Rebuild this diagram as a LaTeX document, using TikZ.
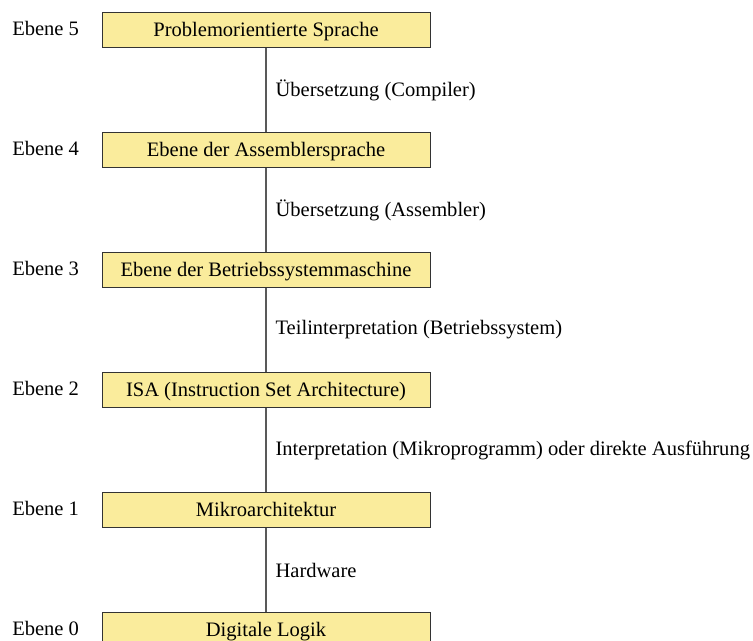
\documentclass[tikz,border=0pt]{standalone}
\usepackage{fontspec}
\setmainfont{Liberation Serif}
\usepackage{tikz}
\usetikzlibrary{positioning}
\definecolor{ebenegelb}{RGB}{250,236,156}
\begin{document}
\begin{tikzpicture}[
  x=0.75pt, y=-0.75pt,
  font=\fontsize{15.4}{18}\selectfont,
  ebene/.style={draw=black!80, fill=ebenegelb, minimum width=246pt, minimum height=26.25pt, inner sep=0pt, text height=0.95em, text depth=0pt},
  lvl/.style={anchor=west, inner sep=0pt, text height=0.85em, text depth=0pt},
  verb/.style={draw=black!65, line width=0.9pt},
  txt/.style={right, inner sep=0pt, xshift=6.75pt}
]
  \useasboundingbox (0,0) rectangle (753,640);

  \node[ebene] (e5) at (266,30) {Problemorientierte Sprache};
  \node[ebene] (e4) at (266,150) {Ebene der Assemblersprache};
  \node[ebene] (e3) at (266,270) {Ebene der Betriebssystemmaschine};
  \node[ebene] (e2) at (266,390) {ISA (Instruction Set Architecture)};
  \node[ebene] (e1) at (266,510) {Mikroarchitektur};
  \node[ebene] (e0) at (266,630) {Digitale Logik};

  \node[lvl] (l5) at (12,30) {Ebene 5};
  \node[lvl] (l4) at (12,150) {Ebene 4};
  \node[lvl] (l3) at (12,270) {Ebene 3};
  \node[lvl] (l2) at (12,390) {Ebene 2};
  \node[lvl] (l1) at (12,510) {Ebene 1};
  \node[lvl] (l0) at (12,630) {Ebene 0};

  \draw[verb] (e5) -- node[txt] {Übersetzung (Compiler)} (e4);
  \draw[verb] (e4) -- node[txt] {Übersetzung (Assembler)} (e3);
  \draw[verb] (e3) -- node[txt] {Teilinterpretation (Betriebssystem)} (e2);
  \draw[verb] (e2) -- node[txt] {Interpretation (Mikroprogramm) oder direkte Ausführung} (e1);
  \draw[verb] (e1) -- node[txt] {Hardware} (e0);
\end{tikzpicture}
\end{document}
